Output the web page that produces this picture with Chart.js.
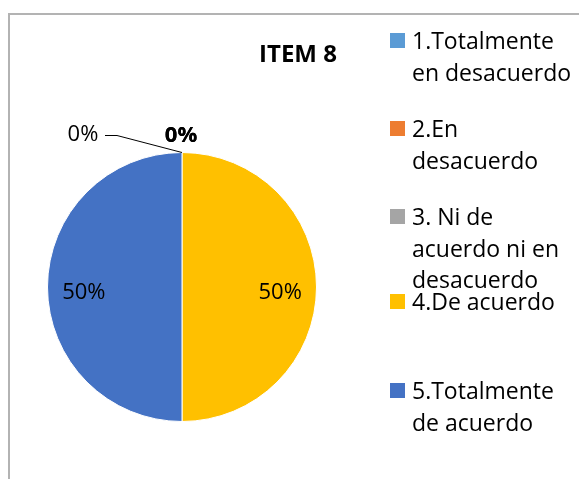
<!DOCTYPE html>
<html>
<head>
<meta charset="utf-8">
<script src="https://cdn.jsdelivr.net/npm/chart.js@4/dist/chart.umd.min.js"></script>
<style>
  html, body { margin: 0; padding: 0; background: #fff; }
  #wrap { position: relative; width: 579px; height: 479px; }
</style>
</head>
<body>
<div id="wrap"><canvas id="myChart" width="579" height="479"></canvas></div>
<script>
var chartTitle = 'ITEM 8';
var categories = [
    ['1.Totalmente', 'en desacuerdo'],
    ['2.En', 'desacuerdo'],
    ['3. Ni de', 'acuerdo ni en', 'desacuerdo'],
    ['4.De acuerdo'],
    ['5.Totalmente', 'de acuerdo']
];
var percentValues = [0, 0, 0, 50, 50];
var sliceColors = ['#5B9BD5', '#ED7D31', '#A5A5A5', '#FFC000', '#4472C4'];

var fontFamily = '"Open Sans", "Noto Sans", sans-serif';

var decorPlugin = {
    id: 'decor',
    beforeDraw: function (chart) {
        var ctx = chart.ctx;
        ctx.save();
        ctx.strokeStyle = '#b3b3b3';
        ctx.lineWidth = 2;
        ctx.beginPath();
        ctx.moveTo(9, 479);
        ctx.lineTo(9, 14);
        ctx.lineTo(579, 14);
        ctx.stroke();
        ctx.restore();
    },
    afterDraw: function (chart) {
        var ctx = chart.ctx;
        ctx.save();
        // title
        ctx.fillStyle = '#000';
        ctx.font = 'bold 24px ' + fontFamily;
        ctx.textAlign = 'center';
        ctx.textBaseline = 'alphabetic';
        ctx.fillText(chartTitle, 298, 62);

        // data labels
        var meta = chart.getDatasetMeta(0);
        var ds = chart.data.datasets[0];
        var zeroCount = 0;
        meta.data.forEach(function (arc, i) {
            var v = ds.data[i];
            var txt = v + '%';
            var p = arc.getProps(['x', 'y', 'startAngle', 'endAngle', 'outerRadius'], true);
            if (v > 0) {
                var mid = (p.startAngle + p.endAngle) / 2;
                var rr = p.outerRadius * 0.73;
                ctx.font = '22px ' + fontFamily;
                ctx.fillStyle = '#000';
                ctx.fillText(txt, p.x + Math.cos(mid) * rr, p.y + Math.sin(mid) * rr + 12);
            } else {
                var ax = p.x + Math.cos(p.startAngle) * p.outerRadius;
                var ay = p.y + Math.sin(p.startAngle) * p.outerRadius;
                if (zeroCount === 0) {
                    ctx.strokeStyle = '#000';
                    ctx.lineWidth = 1;
                    ctx.beginPath();
                    ctx.moveTo(ax, ay);
                    ctx.lineTo(ax - 65, ay - 17);
                    ctx.lineTo(ax - 77, ay - 17);
                    ctx.stroke();
                    ctx.font = '22px ' + fontFamily;
                    ctx.fillStyle = '#000';
                    ctx.fillText(txt, ax - 99, ay - 12);
                } else {
                    ctx.font = 'bold 22px ' + fontFamily;
                    ctx.fillStyle = '#000';
                    ctx.fillText(txt, ax - 1, ay - 11);
                }
                zeroCount++;
            }
        });

        // legend
        var baseY = [49, 137, 225, 310, 399];
        ctx.textAlign = 'left';
        ctx.font = '23px ' + fontFamily;
        chart.data.labels.forEach(function (lab, i) {
            ctx.fillStyle = ds.backgroundColor[i];
            ctx.fillRect(390, baseY[i] - 16, 15, 15);
            ctx.fillStyle = '#000';
            lab.forEach(function (line, j) {
                ctx.fillText(line, 412, baseY[i] + j * 31.7);
            });
        });
        ctx.restore();
    }
};

new Chart(document.getElementById('myChart').getContext('2d'), {
    type: 'pie',
    data: {
        labels: categories,
        datasets: [{
            data: percentValues,
            backgroundColor: sliceColors,
            borderColor: '#ffffff',
            borderWidth: 1
        }]
    },
    options: {
        responsive: false,
        animation: false,
        layout: { padding: { left: 47, right: 262, top: 152, bottom: 57 } },
        plugins: {
            legend: { display: false },
            title: { display: false },
            tooltip: { enabled: false }
        }
    },
    plugins: [decorPlugin]
});
</script>
</body>
</html>
